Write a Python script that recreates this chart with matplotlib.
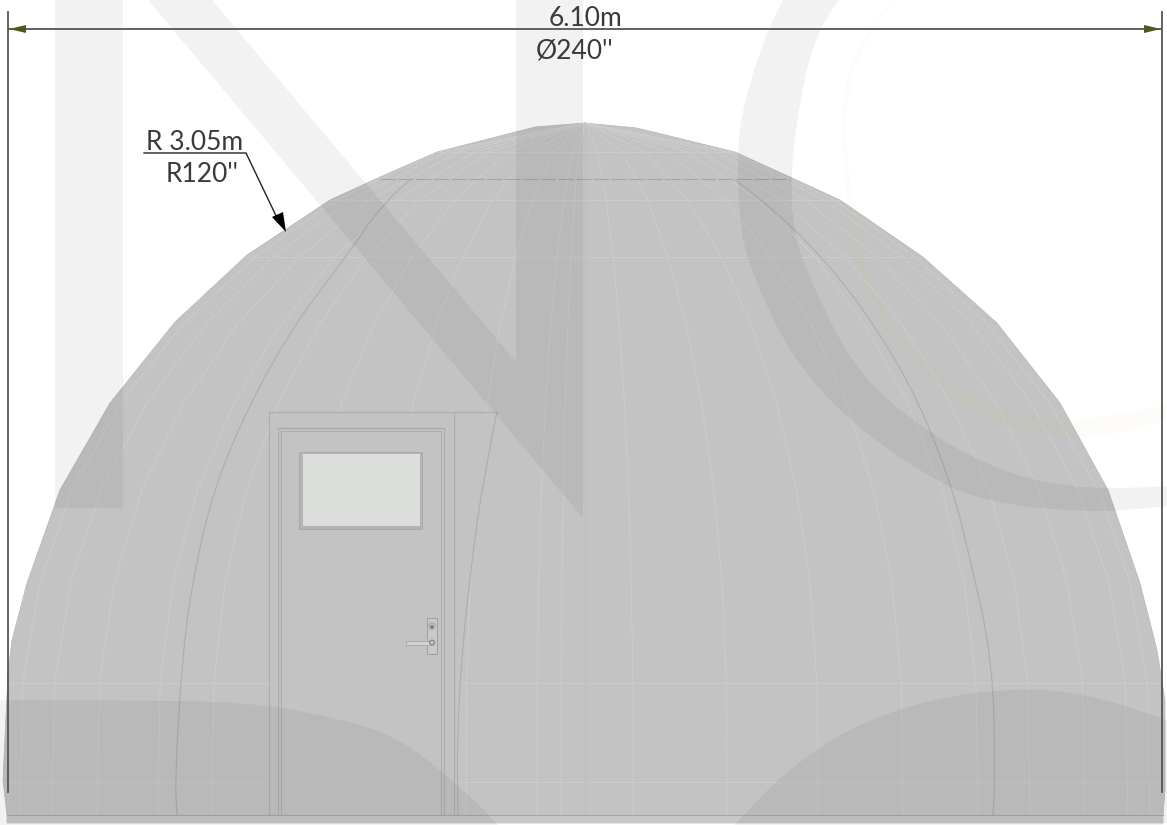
# Front elevation of a 6.10m dome with door, dimensions and faint logo behind it.

import numpy as np
import matplotlib.pyplot as plt
from matplotlib.path import Path
from matplotlib.patches import PathPatch, Polygon, Rectangle, Circle

# everything below is read in picture pixels (y runs down)
dome_x = [7, 3, 8, 12, 27, 60, 110, 175, 247, 330, 380, 437, 535, 585, 637, 735, 790, 840,
          923, 997, 1060, 1108, 1140, 1157, 1165, 1165, 1163, 1163, 7]
dome_y = [815, 780, 673, 640, 583, 490, 403, 322, 255, 200, 177, 152, 127, 123, 128, 152, 177, 200,
          257, 323, 403, 490, 583, 650, 700, 790, 815, 823, 823]

# share of the half width left at each height, used by the roof ribs
rib_rows = [815, 683, 583, 490, 403, 325, 257, 200, 152, 123]
rib_share = [1, .995, .965, .908, .822, .713, .585, .441, .26, 0]
rib_feet = [20, 52, 97, 158, 212, 289, 376, 466, 537, 561, 633, 727, 818, 903, 978, 1030, 1085, 1128, 1150]
ring_rows = [152, 200, 257, 683, 782]

seam_left_x = [410, 385, 346, 294, 250, 213, 192, 182, 175, 177]
seam_left_y = [180, 200, 257, 325, 403, 490, 583, 660, 780, 815]
seam_right_x = [735, 763, 823, 875, 920, 953, 968, 993, 995, 993]
seam_right_y = [180, 200, 257, 325, 403, 490, 550, 660, 780, 815]
door_edge_x = [497, 483, 472, 462, 457, 458]
door_edge_y = [412, 480, 560, 650, 740, 815]

frame_lines = [269, 278, 281, 441, 444, 454]
band_ticks = [26, 36, 48, 75, 92, 110, 173, 197, 250, 277, 365, 415, 497, 560, 600, 640, 690, 757,
              790, 820, 878, 934, 978, 1010, 1050, 1100, 1130]

logo_bar_x = [55, 123, 123, 55]
logo_bar_y = [0, 0, 508, 508]
logo_n_x = [148, 212, 516, 516, 583, 583]
logo_n_y = [0, 0, 362, 0, 0, 518]
logo_c_x = [800, 782, 760, 743, 737, 740, 755, 790, 850, 933, 987, 1083, 1167, 1200,
            1200, 1167, 1070, 987, 910, 853, 810, 793, 791, 800, 813, 837, 860]
logo_c_y = [-30, 0, 50, 107, 150, 233, 280, 355, 423, 480, 502, 513, 507, 500,
            482, 487, 489, 467, 420, 367, 280, 233, 167, 100, 43, 0, -30]
logo_y_x = [905, 893, 867, 842, 842, 852, 877, 933, 987, 1053, 1103, 1167, 1200,
            1200, 1167, 1100, 1053, 987, 933, 885, 860, 845, 848, 870, 896, 910]
logo_y_y = [-20, 0, 30, 83, 150, 250, 317, 385, 420, 437, 437, 420, 410,
            398, 405, 418, 420, 405, 370, 315, 250, 150, 85, 30, 0, -20]
mound_l_x = [-30, 100, 250, 333, 400, 467, 497, 515, -30]
mound_l_y = [700, 700, 702, 717, 737, 793, 823, 845, 845]
mound_r_x = [715, 737, 783, 850, 933, 1017, 1083, 1163, 1200, 1200, 715]
mound_r_y = [845, 823, 773, 727, 698, 688, 693, 718, 735, 845, 845]


def soft(xs, ys):
    # quadratic spline through the midpoints, keeps end points
    pts = list(zip(xs, ys))
    verts = [pts[0]]
    codes = [Path.MOVETO]
    for a, b in zip(pts[1:-1], pts[2:]):
        verts += [a, ((a[0]+b[0])/2, (a[1]+b[1])/2)]
        codes += [Path.CURVE3, Path.CURVE3]
    verts.append(pts[-1])
    codes.append(Path.LINETO)
    return Path(verts, codes)


fig = plt.figure(figsize=(11.67, 8.25), dpi=100)
ax = fig.add_axes([0, 0, 1, 1])
ax.set_xlim(0, 1167)
ax.set_ylim(825, 0)
ax.axis('off')

dome_col = '#c3c3c3'
ax.add_patch(Polygon(np.column_stack([dome_x, dome_y]), closed=True, fc=dome_col, ec='#b8b8b8', lw=0.5, zorder=1))
ax.add_patch(Rectangle((7, 815), 1156, 8, fc='#c8c8c8', ec='none', zorder=1.1))

# ribs and rings
for foot in rib_feet:
    xs = 585 + (foot - 585)*np.array(rib_share)
    ax.plot(xs, rib_rows, color='#cfcfcf', lw=0.6, ls=(0, (9, 1.5)), zorder=2)
for row in ring_rows:
    half = np.interp(row, rib_rows[::-1], np.array(rib_share)[::-1])*578
    ax.plot([585-half, 585+half], [row, row], color='#cccccc', lw=0.7, zorder=2)
ax.vlines(band_ticks, 816, 823, color='#d0d0d0', lw=0.5, zorder=2)
ax.plot([585, 585], [123, 815], color='#bcbcbc', lw=0.7, zorder=2.1)
ax.plot([380, 790], [179, 179], color='#a6a6a6', lw=0.8, ls=(0, (14, 2)), zorder=2.1)
ax.plot([7, 1163], [815, 815], color='#a8a8a8', lw=0.8, zorder=3)

for xs, ys in [(seam_left_x, seam_left_y), (seam_right_x, seam_right_y)]:
    ax.add_patch(PathPatch(soft(xs, ys), fc='none', ec='#adadad', lw=0.8, zorder=2.2))

# door block covers the ribs
ax.add_patch(Polygon(np.column_stack([[269]+door_edge_x+[269], [412]+door_edge_y+[815]]),
                     closed=True, fc=dome_col, ec='none', zorder=2.5))
ax.add_patch(PathPatch(soft(door_edge_x, door_edge_y), fc='none', ec='#adadad', lw=0.8, zorder=3))
ax.plot([269, 497], [412, 412], color='#afafaf', lw=0.9, zorder=3)
ax.plot([278, 444], [428, 428], color='#a9a9a9', lw=1.0, zorder=3)
ax.plot([281, 441], [431, 431], color='#adadad', lw=0.7, zorder=3)
ax.vlines(frame_lines, [412, 428, 431, 431, 428, 412], 815, color='#adadad', lw=0.8, zorder=3)

# window
ax.add_patch(Rectangle((299, 452), 123, 77, fc='#b4b4b4', ec='#a9a9a9', lw=0.7, zorder=3))
ax.add_patch(Rectangle((303, 454), 117, 72, fc='#dcdedb', ec='none', zorder=3.1))

# lock and handle
ax.add_patch(Rectangle((427, 618), 10, 36, fc='#c9c9c9', ec='#a0a0a0', lw=0.7, zorder=3.2))
ax.add_patch(Circle((432, 626), 3.5, fc='#b4b4b4', ec='#a4a4a4', lw=0.4, zorder=3.3))
ax.add_patch(Circle((432, 627), 1.4, fc='#666666', ec='none', zorder=3.4))
ax.add_patch(Rectangle((406, 641), 27, 3.5, fc='#d2d2d2', ec='#a0a0a0', lw=0.5, zorder=3.3))
ax.add_patch(Circle((432, 642.5), 2.4, fc='#c4c4c4', ec='#777777', lw=0.7, zorder=3.4))

# logo over the whole drawing
logo_kw = dict(fc='black', ec='none', alpha=0.05, zorder=4)
ax.add_patch(Polygon(np.column_stack([logo_bar_x, logo_bar_y]), closed=True, **logo_kw))
ax.add_patch(Polygon(np.column_stack([logo_n_x, logo_n_y]), closed=True, **logo_kw))
ax.add_patch(PathPatch(soft(logo_c_x, logo_c_y), **logo_kw))
ax.add_patch(PathPatch(soft(mound_l_x, mound_l_y), **logo_kw))
ax.add_patch(PathPatch(soft(mound_r_x, mound_r_y), **logo_kw))
ax.add_patch(PathPatch(soft(logo_y_x, logo_y_y), fc='#d9c64a', ec='none', alpha=0.035, zorder=4))

# dimensions
dim_col = '#555555'
ax.plot([8, 8], [12, 792], color=dim_col, lw=1.3, zorder=5)
ax.plot([1162, 1162], [12, 792], color=dim_col, lw=1.3, zorder=5)
ax.plot([9, 1161], [29, 29], color=dim_col, lw=1.3, zorder=5)
ax.add_patch(Polygon([(9, 29), (26, 25), (26, 33)], closed=True, fc='#55551f', ec='none', zorder=6))
ax.add_patch(Polygon([(1161, 29), (1144, 25), (1144, 33)], closed=True, fc='#55551f', ec='none', zorder=6))

ax.plot([144, 246, 279], [153, 153, 222], color='#222222', lw=1.0, zorder=5)
ax.add_patch(Polygon([(286, 232), (272, 217), (283, 212)], closed=True, fc='black', ec='none', zorder=6))

txt = dict(family=['Lato', 'DejaVu Sans'], fontsize=19, color='#3a3a3a', zorder=7)
ax.text(585, 26, '6.10m', ha='center', va='baseline', **txt)
ax.text(575, 58, '\u00d8240\'\'', ha='center', va='baseline', **txt)
ax.text(146, 150, 'R 3.05m', ha='left', va='baseline', **txt)
ax.text(239, 182, 'R120\'\'', ha='right', va='baseline', **txt)

fig.savefig('out.png', dpi=100)
